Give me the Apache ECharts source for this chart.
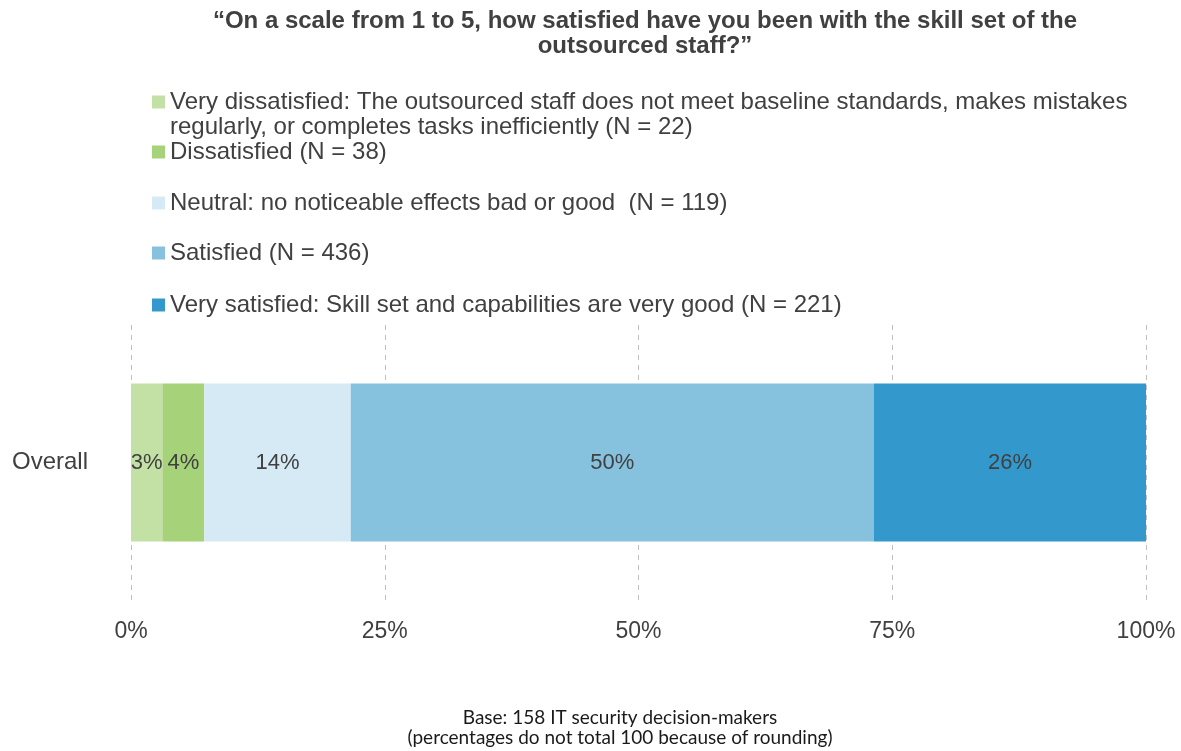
<!DOCTYPE html>
<html>
<head>
<meta charset="utf-8">
<script src="https://cdn.jsdelivr.net/npm/echarts@6/dist/echarts.min.js"></script>
<style>html,body{margin:0;padding:0;background:#fff;}#c{width:1181px;height:751px;}</style>
</head>
<body>
<div id="c"></div>
<script>
const categories = ['Overall'];
const seriesNames = [
  'Very dissatisfied: The outsourced staff does not meet baseline standards, makes mistakes regularly, or completes tasks inefficiently (N = 22)',
  'Dissatisfied (N = 38)',
  'Neutral: no noticeable effects bad or good  (N = 119)',
  'Satisfied (N = 436)',
  'Very satisfied: Skill set and capabilities are very good (N = 221)'
];
const legendFirstLine = 'Very dissatisfied: The outsourced staff does not meet baseline standards, makes mistakes';
const legendSecondLine = 'regularly, or completes tasks inefficiently (N = 22)';
const percentValues = [3, 4, 14, 50, 26];
const seriesColors = ['#c3e0a5', '#a6d279', '#d6eaf5', '#86c1de', '#3399cc'];
const xTickLabels = ['0%', '25%', '50%', '75%', '100%'];

const total = percentValues.reduce((a, b) => a + b, 0);
const legendTops = [90, 140, 191, 241, 293];
const textColor = '#404040';
const font = "'Liberation Sans', Arial, sans-serif";

const chart = echarts.init(document.getElementById('c'), null, {renderer: 'canvas'});
const option = {
  animation: false,
  title: {
    text: '\u201cOn a scale from 1 to 5, how satisfied have you been with the skill set of the\noutsourced staff?\u201d',
    left: 640, textAlign: 'center', top: 4,
    textStyle: {fontFamily: font, fontWeight: 'bold', fontSize: 24, color: textColor, lineHeight: 25}
  },
  legend: seriesNames.map((n, i) => ({
    data: [n], left: 152, top: legendTops[i], orient: 'vertical', padding: 0,
    icon: 'rect', itemWidth: 13, itemHeight: 13, itemGap: 0,
    selectedMode: false,
    formatter: name => (i === 0 ? legendFirstLine : name),
    textStyle: {fontFamily: font, fontSize: 24, color: textColor, lineHeight: 24}
  })),
  graphic: [
    {type: 'text', left: 170, top: 115, style: {text: legendSecondLine, font: "24px 'Liberation Sans', Arial, sans-serif", fill: textColor}},
    {type: 'text', x: 620, y: 718, style: {text: 'Base: 158 IT security decision-makers', font: '19px Lato, sans-serif', fill: '#1a1a1a', align: 'center', verticalAlign: 'middle'}},
    {type: 'text', x: 620, y: 738, style: {text: '(percentages do not total 100 because of rounding)', font: '19px Lato, sans-serif', fill: '#1a1a1a', align: 'center', verticalAlign: 'middle'}}
  ],
  grid: {left: 131, right: 35, top: 325, bottom: 151, containLabel: false},
  xAxis: {
    type: 'value', min: 0, max: 100, interval: 25,
    axisLine: {show: false}, axisTick: {show: false},
    splitLine: {show: true, lineStyle: {color: '#bfbfbf', type: [5, 5], width: 1}},
    axisLabel: {
      margin: 20, fontFamily: font, fontSize: 23, color: textColor,
      formatter: v => xTickLabels[Math.round(v / 25)]
    }
  },
  yAxis: {
    type: 'category', data: categories,
    axisLine: {show: false}, axisTick: {show: false},
    axisLabel: {margin: 43, fontFamily: font, fontSize: 24, color: textColor}
  },
  series: seriesNames.map((n, i) => ({
    name: n, type: 'bar', stack: 'total', barWidth: 158,
    itemStyle: {color: seriesColors[i]},
    label: {
      show: true, position: 'inside', fontFamily: font, fontSize: 22, color: textColor,
      formatter: () => percentValues[i] + '%'
    },
    data: [percentValues[i] / total * 100]
  }))
};
chart.setOption(option);
</script>
</body>
</html>
